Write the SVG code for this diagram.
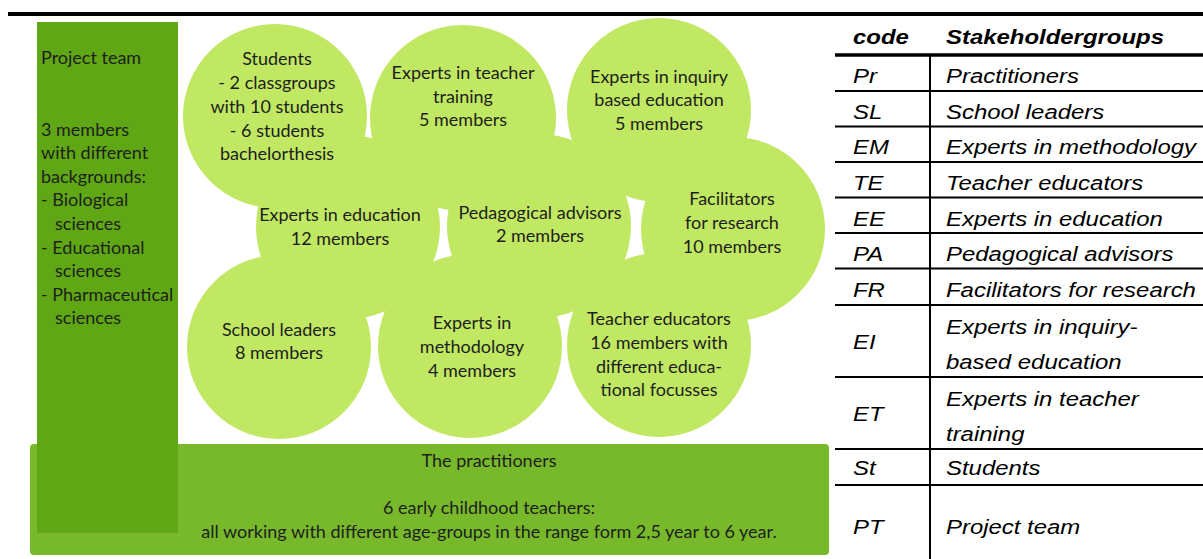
<svg xmlns="http://www.w3.org/2000/svg" width="1203" height="559" viewBox="0 0 1203 559">
<style>
.bg{fill:#ffffff}
.circ{fill:#c0e862}
.dia{font-family:Lato,"Open Sans","Liberation Sans",sans-serif;font-size:18px;fill:#1e1e1e}
.mid{text-anchor:middle}
.tb{font-family:"Liberation Sans",Arial,sans-serif;font-size:21px;font-style:italic;fill:#000000}
.hd{font-weight:bold}
.rule{stroke:#000000;stroke-width:2;fill:none}
.thick{stroke:#000000;stroke-width:4;fill:none}
</style>
<rect class="bg" x="0" y="0" width="1203" height="559"/>
<line class="thick" x1="8" y1="14" x2="1203" y2="14"/>

<g id="practitioners">
<rect x="30" y="444" width="799" height="111" rx="4" fill="#77b92b"/>
<text class="dia mid" x="489" y="467">The practitioners</text>
<text class="dia mid" x="489" y="514">6 early childhood teachers:</text>
<text class="dia mid" x="489" y="538">all working with different age-groups in the range form 2,5 year to 6 year.</text>
</g>

<g id="project-team">
<rect x="37" y="22" width="141" height="511" fill="#5fa714"/>
<text class="dia" x="41" y="64">Project team</text>
<text class="dia" x="41" y="136">3 members</text>
<text class="dia" x="41" y="159">with different</text>
<text class="dia" x="41" y="183">backgrounds:</text>
<text class="dia" x="41" y="206">- Biological</text>
<text class="dia" x="55" y="230">sciences</text>
<text class="dia" x="41" y="254">- Educational</text>
<text class="dia" x="55" y="277">sciences</text>
<text class="dia" x="41" y="301">- Pharmaceutical</text>
<text class="dia" x="55" y="324">sciences</text>
</g>

<g id="experts-teacher-training">
<circle class="circ" cx="463" cy="118" r="93"/>
<text class="dia mid" x="463" y="79">Experts in teacher</text>
<text class="dia mid" x="463" y="103">training</text>
<text class="dia mid" x="463" y="126">5 members</text>
</g>

<g id="experts-inquiry">
<circle class="circ" cx="659" cy="110" r="92"/>
<text class="dia mid" x="659" y="83">Experts in inquiry</text>
<text class="dia mid" x="659" y="106">based education</text>
<text class="dia mid" x="659" y="130">5 members</text>
</g>

<g id="experts-education">
<circle class="circ" cx="348" cy="227" r="92"/>
<text class="dia mid" x="340" y="221">Experts in education</text>
<text class="dia mid" x="340" y="245">12 members</text>
</g>

<g id="students">
<circle class="circ" cx="275" cy="116" r="92"/>
<text class="dia mid" x="277" y="65">Students</text>
<text class="dia mid" x="277" y="89">- 2 classgroups</text>
<text class="dia mid" x="277" y="113">with 10 students</text>
<text class="dia mid" x="277" y="137">- 6 students</text>
<text class="dia mid" x="277" y="160">bachelorthesis</text>
</g>

<g id="pedagogical-advisors">
<circle class="circ" cx="539" cy="226" r="92"/>
<text class="dia mid" x="540" y="219">Pedagogical advisors</text>
<text class="dia mid" x="540" y="242">2 members</text>
</g>

<g id="facilitators">
<circle class="circ" cx="733" cy="229" r="92"/>
<text class="dia mid" x="732" y="205">Facilitators</text>
<text class="dia mid" x="732" y="229">for research</text>
<text class="dia mid" x="732" y="253">10 members</text>
</g>

<g id="school-leaders">
<circle class="circ" cx="279" cy="347" r="92"/>
<text class="dia mid" x="279" y="336">School leaders</text>
<text class="dia mid" x="279" y="359">8 members</text>
</g>

<g id="experts-methodology">
<circle class="circ" cx="470" cy="346" r="92"/>
<text class="dia mid" x="472" y="329">Experts in</text>
<text class="dia mid" x="472" y="353">methodology</text>
<text class="dia mid" x="472" y="377">4 members</text>
</g>

<g id="teacher-educators">
<circle class="circ" cx="659" cy="345" r="92"/>
<text class="dia mid" x="659" y="325">Teacher educators</text>
<text class="dia mid" x="659" y="349">16 members with</text>
<text class="dia mid" x="659" y="373">different educa-</text>
<text class="dia mid" x="659" y="396">tional focusses</text>
</g>

<g id="table">
<line x1="835" y1="55" x2="1203" y2="55" stroke="#000" stroke-width="3.5"/>
<line class="rule" x1="930" y1="55" x2="930" y2="559"/>
<line class="rule" x1="835" y1="91" x2="1203" y2="91"/>
<line class="rule" x1="835" y1="126.5" x2="1203" y2="126.5"/>
<line class="rule" x1="835" y1="162" x2="1203" y2="162"/>
<line class="rule" x1="835" y1="197.5" x2="1203" y2="197.5"/>
<line class="rule" x1="835" y1="233" x2="1203" y2="233"/>
<line class="rule" x1="835" y1="268.5" x2="1203" y2="268.5"/>
<line class="rule" x1="835" y1="305" x2="1203" y2="305"/>
<line class="rule" x1="835" y1="377" x2="1203" y2="377"/>
<line class="rule" x1="835" y1="449" x2="1203" y2="449"/>
<line class="rule" x1="835" y1="485" x2="1203" y2="485"/>
<text class="tb hd" transform="translate(853,44) scale(1.14,1)">code</text>
<text class="tb hd" transform="translate(946,44) scale(1.14,1)">Stakeholdergroups</text>
<text class="tb" transform="translate(853,83) scale(1.14,1)">Pr</text>
<text class="tb" transform="translate(946,83) scale(1.14,1)">Practitioners</text>
<text class="tb" transform="translate(853,118.5) scale(1.14,1)">SL</text>
<text class="tb" transform="translate(946,118.5) scale(1.14,1)">School leaders</text>
<text class="tb" transform="translate(853,154) scale(1.14,1)">EM</text>
<text class="tb" transform="translate(946,154) scale(1.14,1)">Experts in methodology</text>
<text class="tb" transform="translate(853,190) scale(1.14,1)">TE</text>
<text class="tb" transform="translate(946,190) scale(1.14,1)">Teacher educators</text>
<text class="tb" transform="translate(853,225.5) scale(1.14,1)">EE</text>
<text class="tb" transform="translate(946,225.5) scale(1.14,1)">Experts in education</text>
<text class="tb" transform="translate(853,261) scale(1.14,1)">PA</text>
<text class="tb" transform="translate(946,261) scale(1.14,1)">Pedagogical advisors</text>
<text class="tb" transform="translate(853,297) scale(1.14,1)">FR</text>
<text class="tb" transform="translate(946,297) scale(1.14,1)">Facilitators for research</text>
<text class="tb" transform="translate(853,349) scale(1.14,1)">EI</text>
<text class="tb" transform="translate(946,334) scale(1.14,1)">Experts in inquiry-</text>
<text class="tb" transform="translate(946,369) scale(1.14,1)">based education</text>
<text class="tb" transform="translate(853,421) scale(1.14,1)">ET</text>
<text class="tb" transform="translate(946,406) scale(1.14,1)">Experts in teacher</text>
<text class="tb" transform="translate(946,441) scale(1.14,1)">training</text>
<text class="tb" transform="translate(853,475) scale(1.14,1)">St</text>
<text class="tb" transform="translate(946,475) scale(1.14,1)">Students</text>
<text class="tb" transform="translate(853,534) scale(1.14,1)">PT</text>
<text class="tb" transform="translate(946,534) scale(1.14,1)">Project team</text>
</g>
</svg>
